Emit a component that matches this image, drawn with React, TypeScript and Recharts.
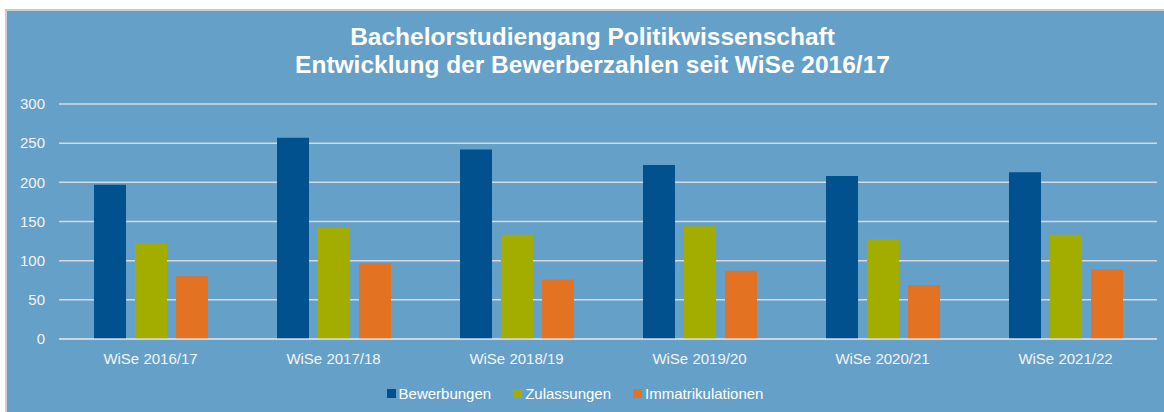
import { BarChart, Bar, XAxis, YAxis, CartesianGrid, Legend } from 'recharts';

const semesters = ['WiSe 2016/17', 'WiSe 2017/18', 'WiSe 2018/19', 'WiSe 2019/20', 'WiSe 2020/21', 'WiSe 2021/22'];
const bewerbungen = [197, 257, 242, 222, 208, 213];
const zulassungen = [122, 142, 133, 144, 127, 133];
const immatrikulationen = [80, 97, 76, 87, 69, 89];
const yTicks = [0, 50, 100, 150, 200, 250, 300];

const series = [
  { key: 'Bewerbungen', color: '#00518E' },
  { key: 'Zulassungen', color: '#A3AD00' },
  { key: 'Immatrikulationen', color: '#E37222' },
];

const data = semesters.map((name, i) => ({
  name,
  Bewerbungen: bewerbungen[i],
  Zulassungen: zulassungen[i],
  Immatrikulationen: immatrikulationen[i],
}));

const FONT = '"Liberation Sans", Arial, sans-serif';
const BG = '#65A0C8';

// fixed order, recharts sorts legend items by name otherwise
const renderLegend = () => (
  <div style={{ display: 'flex', justifyContent: 'center', height: 20, alignItems: 'center', fontFamily: FONT, fontSize: 15, color: '#ffffff', paddingLeft: 8 }}>
    {series.map(s => (
      <div key={s.key} style={{ display: 'flex', alignItems: 'center', marginRight: 22 }}>
        <span style={{ width: 9, height: 9, background: s.color, marginRight: 3, display: 'inline-block' }} />
        <span>{s.key}</span>
      </div>
    ))}
  </div>
);

const App = () => {
  return (
    <div style={{ position: 'absolute', left: 0, top: 0, width: 1164, height: 412, background: '#ffffff', overflow: 'hidden' }}>
      <div
        style={{
          position: 'absolute',
          left: 5,
          top: 9,
          width: 1159,
          height: 403,
          boxSizing: 'border-box',
          borderLeft: '2px solid #C9CDD1',
          borderTop: '2px solid #C9CDD1',
          background: BG,
        }}
      />
      <div
        style={{
          position: 'absolute',
          left: 14,
          width: 1157,
          top: 23,
          textAlign: 'center',
          fontFamily: FONT,
          fontWeight: 'bold',
          fontSize: 24.5,
          lineHeight: '28px',
          color: '#ffffff',
          whiteSpace: 'nowrap',
        }}
      >
        Bachelorstudiengang Politikwissenschaft
        <br />
        Entwicklung der Bewerberzahlen seit WiSe 2016/17
      </div>
      <div style={{ position: 'absolute', left: 0, top: 0 }}>
        <BarChart
          width={1164}
          height={412}
          data={data}
          margin={{ top: 104, right: 7, left: 9, bottom: 22 }}
          barSize={32}
          barGap={9}
        >
          <CartesianGrid vertical={false} stroke="#D6DADE" strokeWidth={1.5} />
          <XAxis
            dataKey="name"
            height={31}
            tickLine={false}
            axisLine={{ stroke: '#D6DADE', strokeWidth: 1.5 }}
            tickMargin={8}
            tick={{ fill: '#F4F4F4', fontSize: 15, fontFamily: FONT }}
          />
          <YAxis
            width={50}
            domain={[0, 300]}
            ticks={yTicks}
            tickLine={false}
            axisLine={false}
            tickMargin={8}
            tick={{ fill: '#F4F4F4', fontSize: 15, fontFamily: FONT }}
          />
          <Legend verticalAlign="bottom" content={renderLegend} wrapperStyle={{ top: 383, left: 0, width: 1164 }} />
          {series.map(s => (
            <Bar key={s.key} dataKey={s.key} fill={s.color} isAnimationActive={false} />
          ))}
        </BarChart>
      </div>
    </div>
  );
};

export default App;
